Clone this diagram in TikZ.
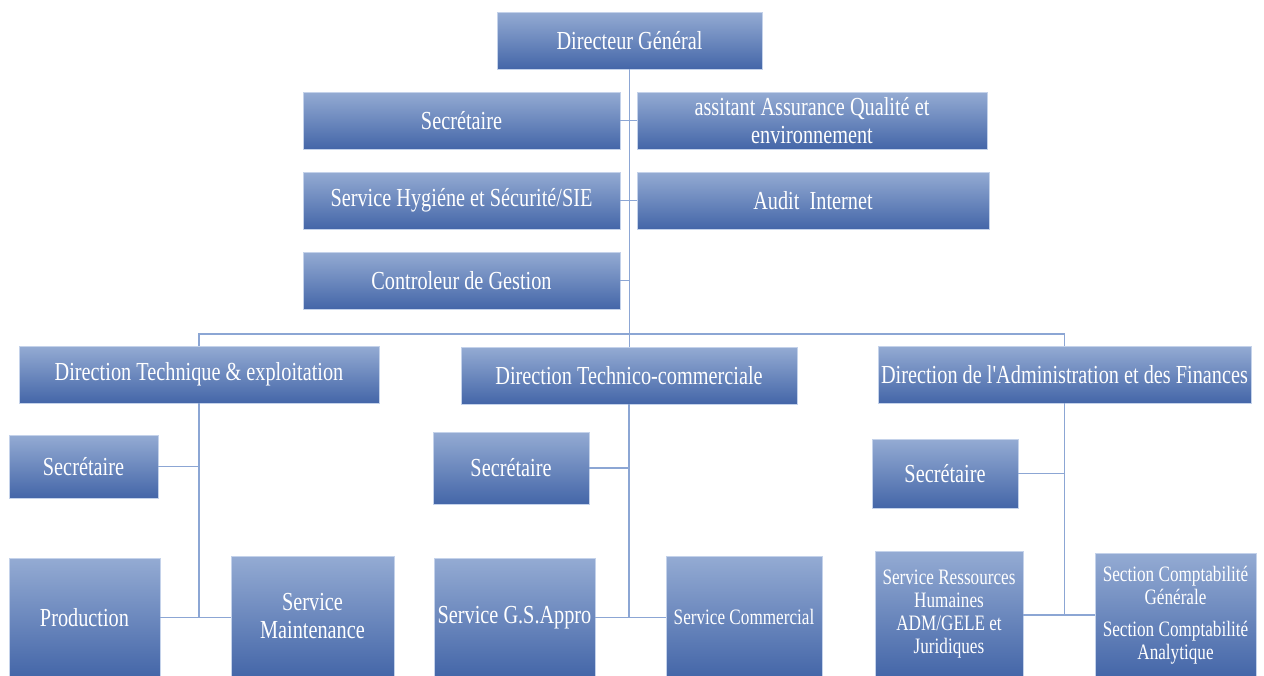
\documentclass[tikz,border=0pt]{standalone}
\usepackage{fontspec}
% condensed Times-like face; no TeX mapping so ' stays a straight quote
\newfontfamily\orgfont{Liberation Serif}[FakeStretch=0.78]
\definecolor{boxtop}{RGB}{148,171,211}
\definecolor{boxbot}{RGB}{68,102,168}
\definecolor{boxedge}{RGB}{196,210,234}
\definecolor{linkblue}{RGB}{140,166,212}
% \orgnode[size style]{name}{x1}{y1}{x2}{y2}{text}: a box given by its corners
\newcommand\orgnode[7][big]{%
  \node[box,#1,minimum width={(#5-#3)*0.75},minimum height={(#6-#4)*0.75}]
    (#2) at ({(#3+#5)/2},{(#4+#6)/2}) {#7};}
\begin{document}
\begin{tikzpicture}[x=0.75pt,y=-0.75pt,
  box/.style={draw=boxedge, line width=0.6pt, top color=boxtop, bottom color=boxbot,
    text=white, align=center, inner sep=0pt, outer sep=0pt},
  big/.style={font=\orgfont\fontsize{19.5}{21}\selectfont},
  small/.style={font=\orgfont\fontsize{16.5}{17.25}\selectfont},
  link/.style={draw=linkblue, line width=1.1pt}]
\useasboundingbox (0,0) rectangle (1264,675);

% top management
\orgnode{dg}{497}{12}{762}{69}{Directeur Général}
\orgnode{sec}{303}{92}{620}{149}{Secrétaire}
\orgnode{aq}{637}{92}{987}{149}{assitant Assurance Qualité et\\environnement}
\orgnode{hyg}{303}{172}{620}{229}{Service Hygiéne et Sécurité/SIE}
\orgnode{audit}{637}{172}{989}{229}{Audit~~Internet}
\orgnode{cg}{303}{252}{620}{309}{Controleur de Gestion}

% directions
\orgnode{dt}{19}{346}{379}{403}{Direction Technique \& exploitation}
\orgnode{dtc}{461}{347}{797}{404}{Direction Technico-commerciale}
\orgnode{daf}{878}{346}{1251}{403}{Direction de l'Administration et des Finances}

% technical direction
\orgnode{secdt}{9}{435}{158}{498}{Secrétaire}
\orgnode{prod}{9}{558}{160}{677}{Production}
\orgnode{maint}{231}{556}{394}{677}{Service\\Maintenance}

% technico-commercial direction
\orgnode{secdtc}{433}{432}{589}{504}{Secrétaire}
\orgnode{gs}{434}{558}{595}{677}{Service G.S.Appro}
\orgnode[small]{com}{666}{556}{822}{677}{Service Commercial}

% administration and finance
\orgnode{secdaf}{872}{439}{1018}{508}{Secrétaire}
\orgnode[small]{rh}{875}{551}{1023}{677}{Service Ressources\\Humaines\\ADM/GELE et\\Juridiques}
\orgnode[small]{compta}{1095}{553}{1256}{677}{Section Comptabilité\\Générale\\[6.75pt]Section Comptabilité\\Analytique}

% connectors
\coordinate (bus) at (629,334);
\draw[link] (dg.south) -- (dg.south |- dtc.north);
\draw[link] (sec.east) -- (aq.west);
\draw[link] (hyg.east) -- (audit.west);
\draw[link] (cg.east) -- (cg.east -| dg.south);
\draw[link] (dt.north) |- (bus) -| (daf.north);

\draw[link] (dt.south) -- (dt.south |- prod.east);
\draw[link] (secdt.east) -- (secdt.east -| dt.south);
\draw[link] (prod.east) -- (prod.east -| maint.west);

\draw[link] (dtc.south) -- (dtc.south |- gs.east);
\draw[link] (secdtc.east) -- (secdtc.east -| dtc.south);
\draw[link] (gs.east) -- (gs.east -| com.west);

\draw[link] (daf.south) -- (daf.south |- 0,615);
\draw[link] (secdaf.east) -- (secdaf.east -| daf.south);
\draw[link] (rh.east |- 0,615) -- (compta.west |- 0,615);
\end{tikzpicture}
\end{document}
